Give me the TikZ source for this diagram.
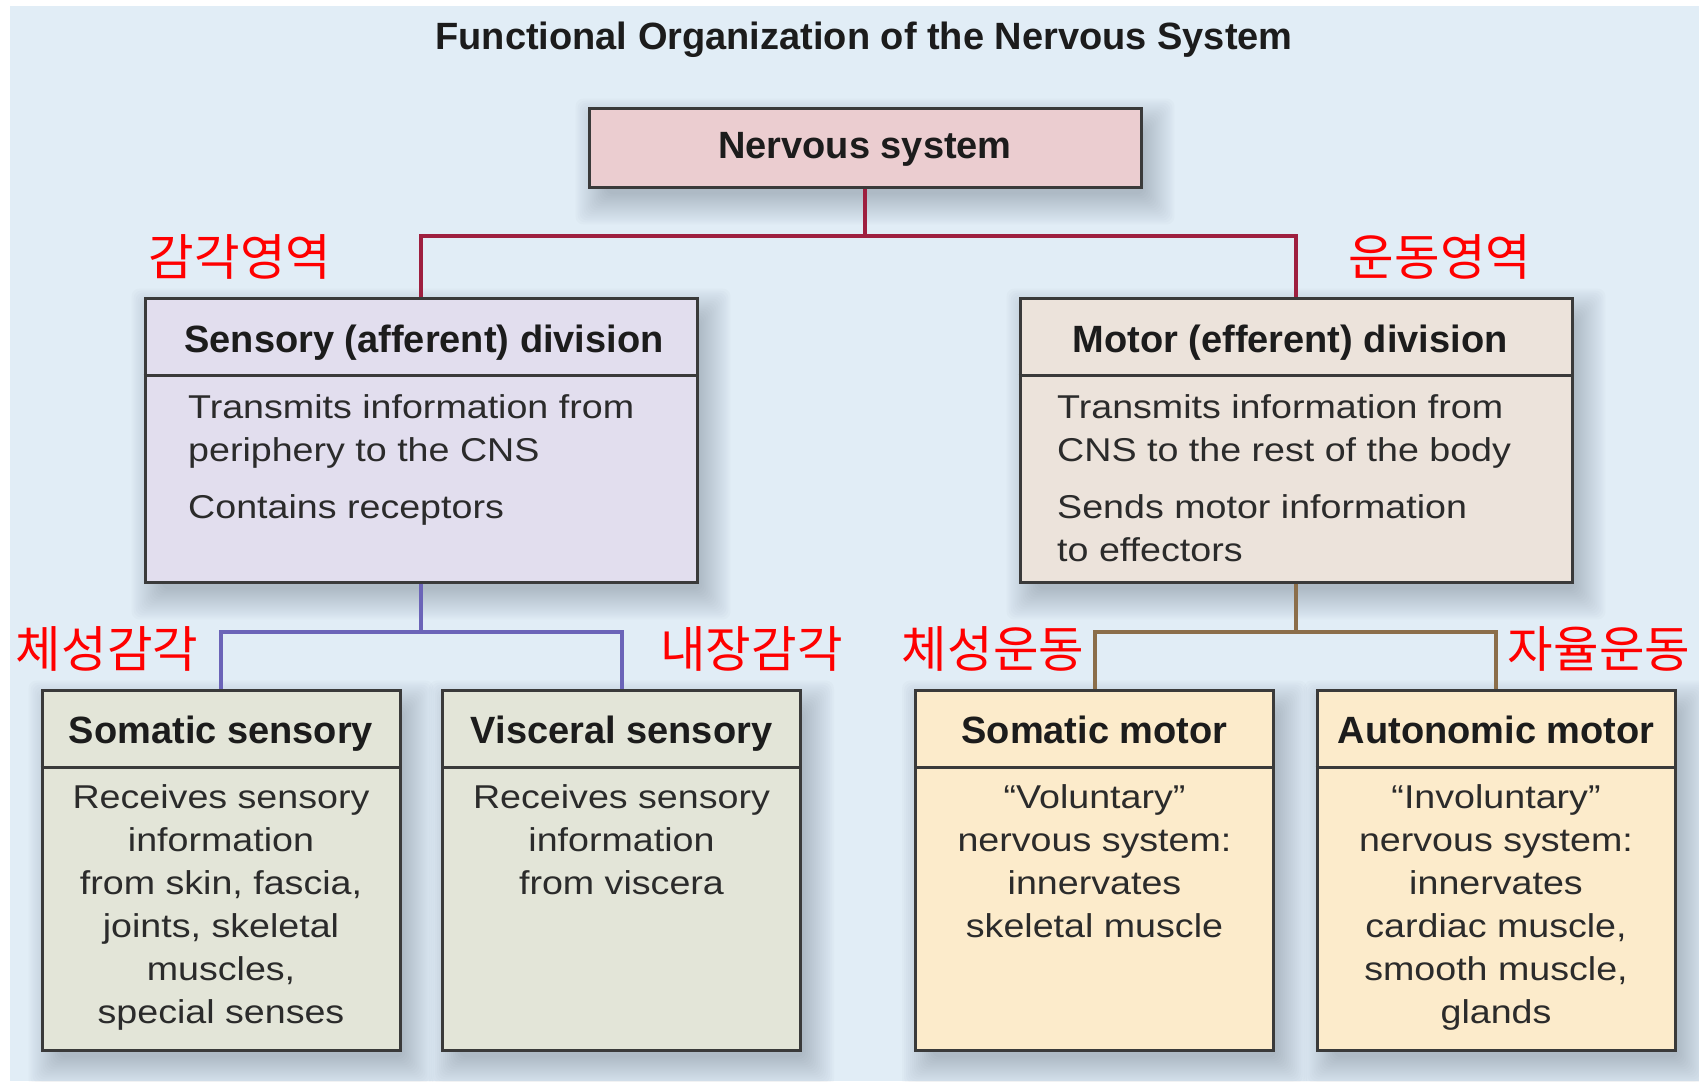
\documentclass[tikz,border=0pt]{standalone}
\usepackage{fontspec}
\setmainfont{Liberation Sans}
\newfontfamily\bodyfont[FakeStretch=1.14]{Liberation Sans}
\newfontfamily\krfont{Noto Sans CJK KR}

\definecolor{bgblue}{HTML}{E1EDF6}
\definecolor{rootfill}{HTML}{EBCDD0}
\definecolor{sensfill}{HTML}{E2DEEE}
\definecolor{motfill}{HTML}{ECE3DB}
\definecolor{leafsens}{HTML}{E3E5D8}
\definecolor{leafmot}{HTML}{FCEBCB}
\definecolor{edgegray}{HTML}{3A3A3A}
\definecolor{redconn}{HTML}{9E1F3F}
\definecolor{purpleconn}{HTML}{6B64B8}
\definecolor{brownconn}{HTML}{8B6E4A}
\definecolor{inkdark}{HTML}{1C1C1C}
\definecolor{inkbody}{HTML}{2B2B2B}
\definecolor{shadowtone}{HTML}{3C4A5C}

\pgfdeclarelayer{bglayer}
\pgfdeclarelayer{shadowlayer}
\pgfsetlayers{bglayer,shadowlayer,main}

% multi-line text blocks whose baseline is that of the first line
\newcommand\centerlines[1]{\vtop{\halign{\hfil##\hfil\cr#1\crcr}}}
\newcommand\leftlines[1]{\vtop{\halign{##\hfil\cr#1\crcr}}}

% soft drop shadow under a box node, built from stacked translucent rectangles
\newcommand\softshadow[1]{%
  \begin{pgfonlayer}{shadowlayer}
    \foreach \s in {-8,-6,...,22}{
      \fill[shadowtone, opacity=0.02, rounded corners=8pt]
        ([shift={(10-\s,14-\s)}]#1.north west) rectangle
        ([shift={(10+\s,14+\s)}]#1.south east);
    }
  \end{pgfonlayer}}

\begin{document}
\begin{tikzpicture}[x=1pt,y=-1pt,
  boxstyle/.style={draw=edgegray, line width=3pt, inner sep=0pt, rectangle},
  sepline/.style={draw=edgegray, line width=3pt},
  boldtext/.style={inner sep=0pt, text=inkdark,
    font=\fontsize{38}{43}\selectfont\bfseries},
  bodytext/.style={inner sep=0pt, text=inkbody,
    font=\bodyfont\fontsize{33}{43}\selectfont},
  krlabel/.style={inner sep=0pt, text=red,
    font=\krfont\fontsize{49.5}{54}\selectfont},
  redline/.style={draw=redconn, line width=4pt},
  purpleline/.style={draw=purpleconn, line width=4pt},
  brownline/.style={draw=brownconn, line width=4pt},
]
\begin{pgfonlayer}{bglayer}
  \fill[white] (0,0) rectangle (1699,1081);
  \fill[bgblue] (10,6) rectangle (1699,1081);
\end{pgfonlayer}
\useasboundingbox (0,0) rectangle (1699,1081);

% title
\node[boldtext, anchor=base] (title) at (864,50)
  {Functional Organization of the Nervous System};

% root
\node[boxstyle, fill=rootfill, minimum width=552, minimum height=79]
  (ns) at (865,147.5) {};
\node[boldtext, anchor=base] (nsT) at (865,158) {Nervous system};

% divisions
\node[boxstyle, fill=sensfill, minimum width=552, minimum height=284]
  (sens) at (421,440) {};
\draw[sepline] (sens.west |- 0,375) -- (sens.east |- 0,375);
\node[boldtext, anchor=base] (sensH) at (424,352) {Sensory (afferent) division};
\node[bodytext, anchor=base west] (sensB) at (188,418)
  {\leftlines{Transmits information from\cr periphery to the CNS\cr
   \noalign{\vskip14pt} Contains receptors}};

\node[boxstyle, fill=motfill, minimum width=552, minimum height=284]
  (mot) at (1296,440) {};
\draw[sepline] (mot.west |- 0,375) -- (mot.east |- 0,375);
\node[boldtext, anchor=base] (motH) at (1290,352) {Motor (efferent) division};
\node[bodytext, anchor=base west] (motB) at (1057,418)
  {\leftlines{Transmits information from\cr CNS to the rest of the body\cr
   \noalign{\vskip14pt} Sends motor information\cr to effectors}};

% branches
\node[boxstyle, fill=leafsens, minimum width=358, minimum height=360]
  (ss) at (221,870) {};
\draw[sepline] (ss.west |- 0,767) -- (ss.east |- 0,767);
\node[boldtext, anchor=base] (ssH) at (221,743) {Somatic sensory};
\node[bodytext, anchor=base] (ssB) at (221,808)
  {\centerlines{Receives sensory\cr information\cr from skin, fascia,\cr
   joints, skeletal\cr muscles,\cr special senses}};

\node[boxstyle, fill=leafsens, minimum width=358, minimum height=360]
  (vs) at (621.5,870) {};
\draw[sepline] (vs.west |- 0,767) -- (vs.east |- 0,767);
\node[boldtext, anchor=base] (vsH) at (621.5,743) {Visceral sensory};
\node[bodytext, anchor=base] (vsB) at (621.5,808)
  {\centerlines{Receives sensory\cr information\cr from viscera}};

\node[boxstyle, fill=leafmot, minimum width=358, minimum height=360]
  (sm) at (1094.5,870) {};
\draw[sepline] (sm.west |- 0,767) -- (sm.east |- 0,767);
\node[boldtext, anchor=base] (smH) at (1094.5,743) {Somatic motor};
\node[bodytext, anchor=base] (smB) at (1094.5,808)
  {\centerlines{“Voluntary”\cr nervous system:\cr innervates\cr skeletal muscle}};

\node[boxstyle, fill=leafmot, minimum width=358, minimum height=360]
  (am) at (1496,870) {};
\draw[sepline] (am.west |- 0,767) -- (am.east |- 0,767);
\node[boldtext, anchor=base] (amH) at (1496,743) {Autonomic motor};
\node[bodytext, anchor=base] (amB) at (1496,808)
  {\centerlines{“Involuntary”\cr nervous system:\cr innervates\cr
   cardiac muscle,\cr smooth muscle,\cr glands}};

% shadows beneath the boxes
\softshadow{ns}
\softshadow{sens}
\softshadow{mot}
\softshadow{ss}
\softshadow{vs}
\softshadow{sm}
\softshadow{am}

% connectors
\draw[redline] (ns.south) -- (ns.south |- 0,236) -| (sens.north);
\draw[redline] (ns.south |- 0,236) -| (mot.north);
\draw[purpleline] (sens.south) -- (sens.south |- 0,632) -| (ss.north);
\draw[purpleline] (sens.south |- 0,632) -| (vs.north);
\draw[brownline] (mot.south) -- (mot.south |- 0,632) -| (sm.north);
\draw[brownline] (mot.south |- 0,632) -| (am.north);

% Korean labels
\node[krlabel] (krA) at (240,257) {감각영역};
\node[krlabel] (krB) at (1440,257) {운동영역};
\node[krlabel] (krC) at (107,649) {체성감각};
\node[krlabel] (krD) at (751.5,649) {내장감각};
\node[krlabel] (krE) at (993,649) {체성운동};
\node[krlabel] (krF) at (1599,649) {자율운동};
\end{tikzpicture}
\end{document}
